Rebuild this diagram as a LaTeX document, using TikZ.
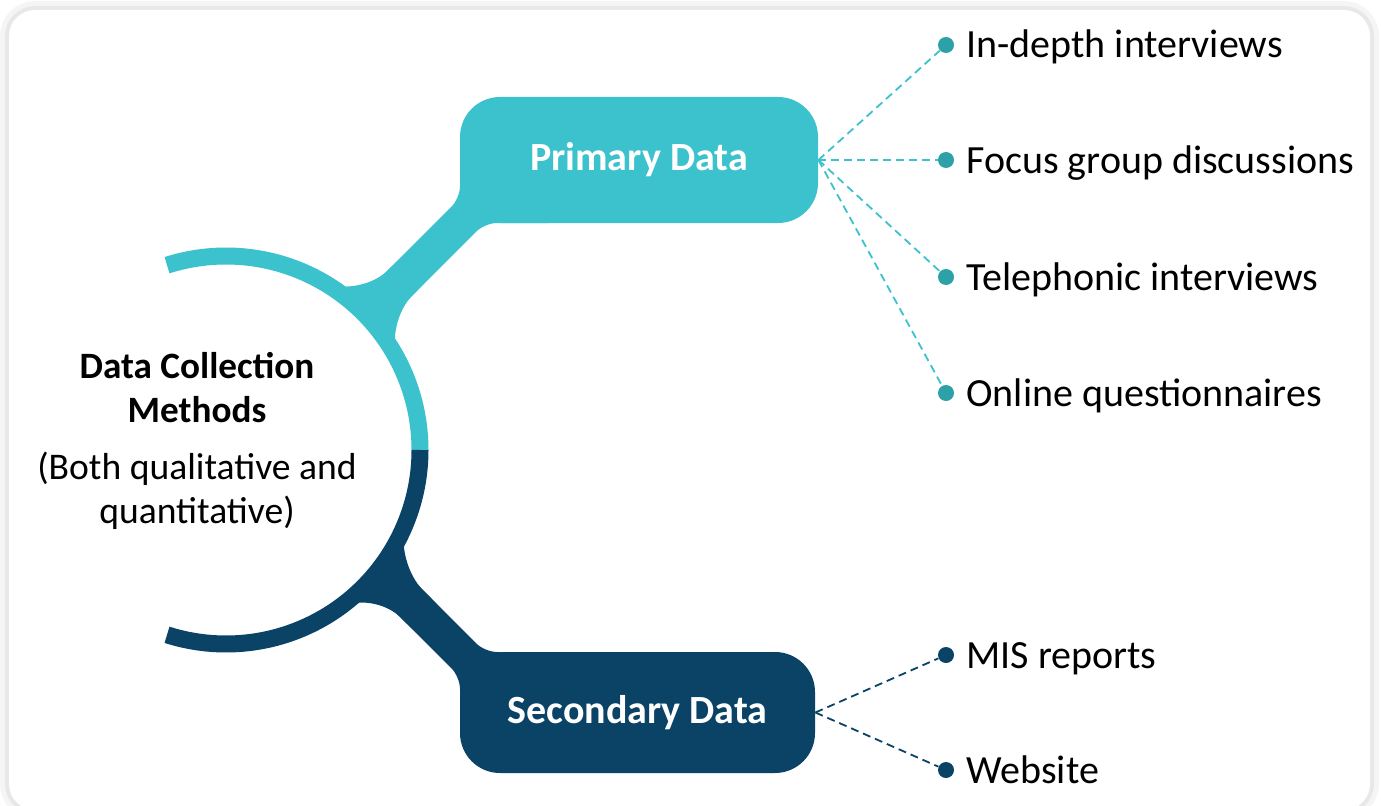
\documentclass[tikz,border=0pt]{standalone}
\usepackage{fontspec}
\setmainfont{Carlito}
\definecolor{tealbox}{HTML}{3BC2CD}
\definecolor{tealdot}{HTML}{2CA1A8}
\definecolor{navybox}{HTML}{0A4366}
\pgfdeclarelayer{background layer}
\pgfsetlayers{background layer,main}
\tikzstyle{branch}=[rounded corners=20pt,minimum height=63pt,inner sep=0pt,text=white,font=\fontsize{20}{24}\selectfont\bfseries]
\tikzstyle{dot}=[circle,inner sep=0pt,minimum size=8pt]
\tikzstyle{item}=[anchor=base west,inner sep=0pt,font=\fontsize{20}{24}\selectfont]
\tikzstyle{link}=[dash pattern=on 4pt off 2.5pt,line width=0.9pt]

\begin{document}
\begin{tikzpicture}[x=0.5pt,y=0.5pt]
		\useasboundingbox (0,0) rectangle (1381,805);
		
		\begin{pgfonlayer}{background layer}
			\draw [black!4,line width=9pt,rounded corners=13pt] (9,-5) rectangle (1370,795);
			\draw [black!9,line width=4pt,rounded corners=13pt] (9,-5) rectangle (1370,795);
			\fill [white,rounded corners=13pt] (9,-5) rectangle (1370,795);
		\end{pgfonlayer}
		
		\coordinate (hub) at (226,355);
		
		% stems, small fillets at the boxes
		\fill [tealbox,rounded corners=6pt] (560,665)--(460,665)--(460,606.8)--(352.6,499.4)--(377.4,474.6)--(484.8,582)--(560,582)--cycle;
		\fill [navybox,rounded corners=6pt] (560,72)--(560,153)--(484.8,153)--(387.4,250.4)--(362.6,225.6)--(460,128.2)--(460,72)--cycle;
		% wide fillets at the ring
		\fill [tealbox,rounded corners=20pt] (500,622)--(417.6,564.4)--(360,506.8)--(276.2,542.4)--(363.2,492.2)--(415.8,395.3)--(384.2,481.4)--(442.4,539.6)--cycle;
		\fill [navybox,rounded corners=20pt] (510,103)--(457.4,180.4)--(394.75,243.05)--(418.1,328)--(374.6,230.3)--(286,170.5)--(372.75,215.45)--(432.6,155.6)--cycle;
		
		\draw [tealbox,line width=8.5pt] (hub) ++(194,0) arc[start angle=0,end angle=107.7,radius=194];
		\draw [navybox,line width=8.5pt] (hub) ++(194,0) arc[start angle=0,end angle=-107.7,radius=194];
		
		\node (prim) at (639,645) [branch,fill=tealbox,minimum width=179pt] {Primary Data};
		\node (sec) at (637.5,92.5) [branch,fill=navybox,minimum width=177.5pt,minimum height=60.5pt] {Secondary Data};
		
		\node (title) at (197,417) [align=center,font=\fontsize{18.6}{22}\selectfont\bfseries] {Data Collection\\Methods};
		\node (sub) at (197,314) [align=center,font=\fontsize{18.8}{22}\selectfont] {(Both qualitative and\\quantitative)};
		
		\node (d1) at (946,760) [dot,fill=tealdot] {};
		\node (d2) at (946,645) [dot,fill=tealdot] {};
		\node (d3) at (946,528) [dot,fill=tealdot] {};
		\node (d4) at (946,412) [dot,fill=tealdot] {};
		\node (d5) at (946,150) [dot,fill=navybox] {};
		\node (d6) at (946,35) [dot,fill=navybox] {};
		
		\node (t1) at (966,747) [item] {In-depth interviews};
		\node (t2) at (966,632) [item] {Focus group discussions};
		\node (t3) at (966,515) [item] {Telephonic interviews};
		\node (t4) at (966,399) [item] {Online questionnaires};
		\node (t5) at (966,137) [item] {MIS reports};
		\node (t6) at (966,22) [item] {Website};
		
		\draw [link,tealbox] (prim.east)--(d1);
		\draw [link,tealbox] (prim.east)--(d2);
		\draw [link,tealbox] (prim.east)--(d3);
		\draw [link,tealbox] (prim.east)--(d4);
		\draw [link,navybox] (sec.east)--(d5);
		\draw [link,navybox] (sec.east)--(d6);
	\end{tikzpicture}
\end{document}
